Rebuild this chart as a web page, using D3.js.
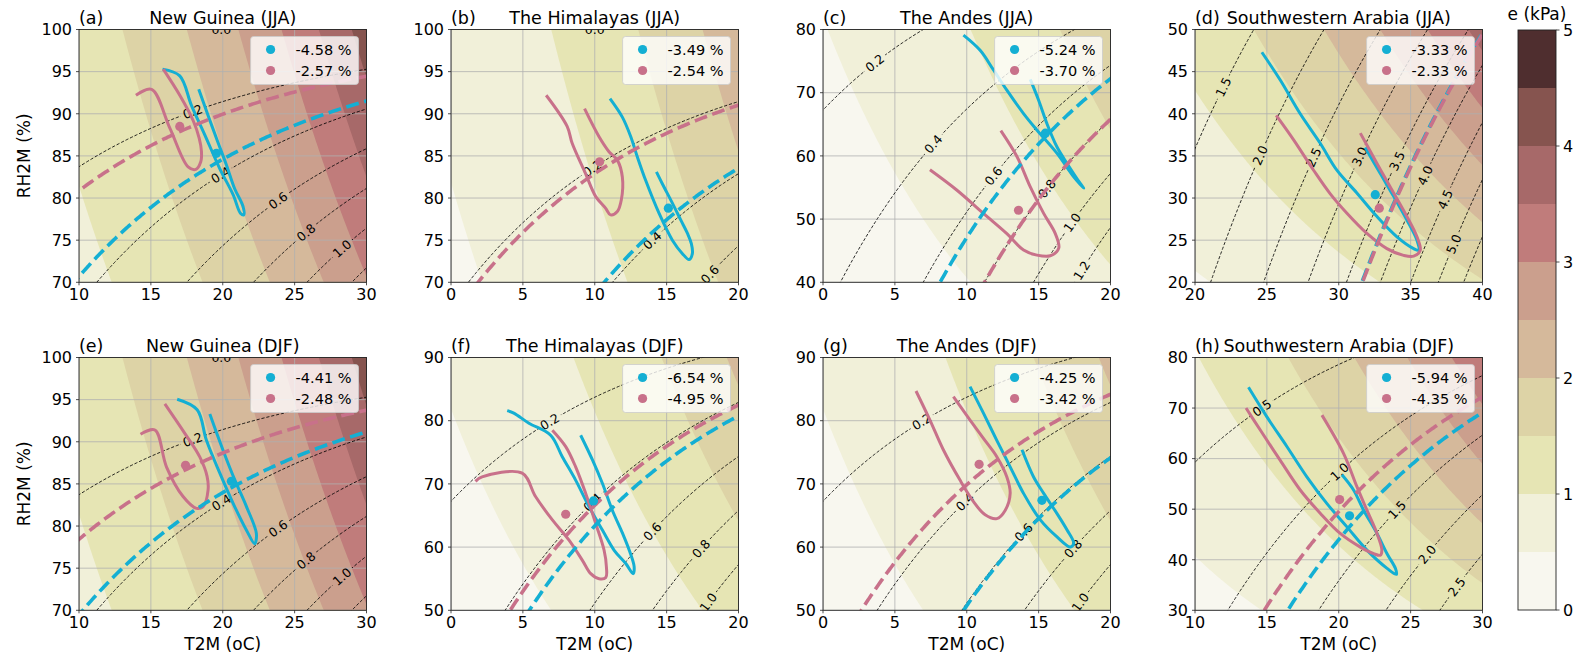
<!DOCTYPE html>
<html>
<head>
<meta charset="utf-8">
<script src="https://cdn.jsdelivr.net/npm/d3@7"></script>
<style>
body { margin: 0; background: #fff; }
text { font-family: "DejaVu Sans", sans-serif; fill: #000; }
</style>
</head>
<body>
<svg id="chart" width="1588" height="658"></svg>
<script>
// ---- data ----
var panelIds = ["a", "b", "c", "d", "e", "f", "g", "h"];
var panelTitles = ["New Guinea (JJA)", "The Himalayas (JJA)", "The Andes (JJA)", "Southwestern Arabia (JJA)",
    "New Guinea (DJF)", "The Himalayas (DJF)", "The Andes (DJF)", "Southwestern Arabia (DJF)"];
var xDomains = [[10, 30], [0, 20], [0, 20], [20, 40], [10, 30], [0, 20], [0, 20], [10, 30]];
var yDomains = [[70, 100], [70, 100], [40, 80], [20, 50], [70, 100], [50, 90], [50, 90], [30, 80]];
var yTickStep = [5, 5, 10, 5, 5, 10, 10, 10];

// vapour pressure deficit contour step (kPa) and label positions [level, T]
var vpdStep = [0.2, 0.2, 0.2, 0.5, 0.2, 0.2, 0.2, 0.5];
var vpdLabels = [
    [[0, 19.9], [0.2, 17.9], [0.4, 19.85], [0.6, 23.85], [0.8, 25.8], [1.0, 28.3]],
    [[0, 10.0], [0.2, 9.83], [0.4, 14.0], [0.6, 18.0]],
    [[0.2, 3.6], [0.4, 7.67], [0.6, 11.86], [0.8, 15.58], [1.0, 17.33], [1.2, 18.0]],
    [[1.5, 21.97], [2.0, 24.53], [2.5, 28.25], [3.0, 31.45], [3.5, 34.05], [4.0, 36.0], [4.5, 37.4], [5.0, 38.0]],
    [[0, 19.9], [0.2, 17.9], [0.4, 19.9], [0.6, 23.85], [0.8, 25.8], [1.0, 28.3]],
    [[0.2, 6.86], [0.4, 9.84], [0.6, 14.0], [0.8, 17.4], [1.0, 17.9]],
    [[0.2, 6.86], [0.4, 9.88], [0.6, 13.95], [0.8, 17.4], [1.0, 17.9]],
    [[0.5, 14.65], [1.0, 20.06], [1.5, 24.05], [2.0, 26.15], [2.5, 28.2]]
];

// VPD of the thick dashed curves (kPa)
var cyanVpd = [0.36, 0.385, 0.65, 3.72, 0.375, 0.45, 0.605, 1.31];
var pinkVpd = [0.235, 0.21, 0.80, 3.73, 0.265, 0.41, 0.37, 1.18];

var cyanPct = ["-4.58 %", "-3.49 %", "-5.24 %", "-3.33 %", "-4.41 %", "-6.54 %", "-4.25 %", "-5.94 %"];
var pinkPct = ["-2.57 %", "-2.54 %", "-3.70 %", "-2.33 %", "-2.48 %", "-4.95 %", "-3.42 %", "-4.35 %"];

var cyanMean = [[19.56, 85.3], [15.12, 78.8], [15.47, 63.6], [32.54, 30.4], [20.6, 85.3], [9.91, 67.3], [15.23, 67.4], [20.75, 48.7]];
var pinkMean = [[17.01, 88.5], [10.34, 84.3], [13.6, 51.4], [32.82, 28.8], [17.41, 87.2], [7.98, 65.2], [10.86, 73.1], [20.06, 51.9]];

var cyanLoops = [
    [[15.81, 95.3], [17.01, 94.5], [17.82, 91.0], [18.75, 87.5], [19.79, 83.5], [20.72, 80.4], [21.23, 78.2], [21.46, 78.0], [21.41, 79.0], [20.83, 81.1], [20.26, 83.9], [19.56, 87.1], [18.98, 89.8], [18.33, 92.9]],
    [[11.06, 91.8], [11.92, 89.6], [12.5, 87.3], [12.96, 84.9], [13.54, 82.1], [14.47, 78.2], [15.4, 75.0], [16.1, 73.4], [16.56, 72.7], [16.79, 73.4], [16.72, 74.6], [16.45, 75.8], [15.98, 77.4], [15.4, 79.4], [14.7, 81.7], [14.29, 83.1]],
    [[9.77, 79.1], [10.93, 76.7], [11.86, 73.6], [12.79, 70.4], [13.95, 66.7], [14.88, 64.1], [16.28, 60.4], [17.44, 56.7], [18.14, 54.9], [17.91, 55.6], [16.98, 58.8], [16.28, 61.4], [15.58, 65.1], [15.0, 68.8], [14.42, 72.1]],
    [[24.65, 47.3], [25.93, 44.0], [27.32, 40.0], [28.71, 36.5], [29.87, 33.3], [31.26, 30.6], [32.66, 27.8], [34.05, 25.4], [35.21, 24.0], [35.56, 23.8], [35.44, 25.0], [34.74, 27.4], [33.82, 30.2], [32.89, 32.9], [31.84, 36.0]],
    [[16.83, 95.05], [18.22, 93.8], [18.86, 90.2], [19.79, 86.3], [20.72, 82.7], [21.65, 79.5], [22.22, 77.9], [22.34, 79.1], [21.65, 82.3], [20.83, 85.5], [20.02, 89.0], [19.1, 93.3]],
    [[3.91, 81.6], [4.37, 81.2], [5.42, 79.6], [6.93, 77.7], [7.74, 74.3], [8.67, 70.6], [9.6, 66.4], [10.53, 62.7], [11.35, 59.5], [12.16, 57.4], [12.67, 55.8], [12.74, 56.9], [12.4, 59.5], [11.93, 62.2], [11.23, 65.8], [10.53, 70.1], [9.84, 73.8], [9.02, 77.7]],
    [[10.23, 85.4], [11.16, 81.2], [12.09, 76.9], [13.02, 72.7], [13.95, 68.5], [15.12, 64.3], [16.28, 61.6], [17.21, 60.0], [17.44, 60.6], [16.98, 62.7], [16.28, 65.3], [15.35, 68.5], [14.65, 71.1], [13.84, 75.4]],
    [[13.72, 74.1], [14.99, 68.3], [16.39, 62.4], [17.78, 56.4], [19.18, 51.1], [20.57, 46.5], [21.96, 41.9], [23.36, 38.3], [24.01, 37.1], [23.94, 38.3], [23.36, 41.2], [22.66, 45.2], [21.73, 49.8], [21.03, 53.8], [20.22, 56.8]]
];

var pinkLoops = [
    [[13.96, 92.2], [15.05, 92.9], [16.32, 88.3], [17.59, 83.7], [18.13, 83.4], [18.47, 84.3], [18.52, 85.5], [18.36, 87.1], [17.94, 89.2], [17.01, 92.2], [15.86, 95.3]],
    [[6.62, 92.2], [8.08, 88.5], [8.43, 86.5], [9.36, 82.9], [10.06, 80.2], [10.75, 78.8], [11.1, 78.0], [11.57, 78.4], [11.85, 79.8], [11.92, 82.5], [11.57, 84.5], [10.99, 85.5], [10.29, 87.3], [9.29, 90.6]],
    [[7.44, 57.8], [9.3, 54.6], [11.16, 50.9], [12.79, 47.7], [13.95, 45.1], [14.88, 44.3], [15.81, 44.2], [16.4, 45.4], [16.16, 47.7], [15.35, 50.9], [14.42, 55.1], [13.49, 59.9], [12.37, 64.0]],
    [[25.65, 39.8], [26.86, 36.9], [28.25, 33.3], [29.41, 30.5], [30.57, 28.2], [31.96, 25.8], [33.35, 24.0], [34.51, 23.2], [35.21, 23.1], [35.67, 23.8], [35.44, 25.4], [34.74, 27.8], [33.82, 30.6], [32.66, 34.1], [31.5, 37.7]],
    [[14.28, 90.9], [15.28, 91.4], [16.09, 87.0], [17.24, 83.5], [18.17, 82.1], [18.63, 82.3], [18.98, 84.3], [18.91, 85.9], [18.4, 88.2], [17.36, 91.0], [15.97, 94.5]],
    [[1.7, 70.4], [2.16, 71.1], [4.95, 71.7], [5.88, 68.0], [7.05, 64.3], [8.21, 61.1], [9.14, 57.9], [9.72, 55.8], [10.3, 55.0], [10.77, 55.2], [10.81, 56.9], [10.65, 59.5], [10.07, 63.7], [9.37, 68.5], [8.67, 72.7], [7.98, 75.9], [7.05, 78.5]],
    [[6.47, 84.7], [7.44, 80.1], [8.37, 75.4], [9.53, 70.6], [10.47, 67.2], [11.28, 65.1], [12.09, 64.5], [12.67, 65.8], [13.02, 68.5], [12.79, 71.1], [12.09, 74.3], [11.16, 77.2], [10.23, 80.1], [9.07, 83.8]],
    [[13.55, 70.0], [14.53, 65.7], [15.92, 59.7], [17.32, 53.8], [18.71, 49.2], [20.1, 45.2], [21.5, 42.5], [22.43, 41.2], [22.89, 40.9], [23.0, 41.9], [22.66, 45.2], [21.96, 49.8], [21.27, 54.4], [20.34, 61.0], [18.83, 68.6]]
];

// vapour pressure colour levels (kPa)
var eLevels = [0, 0.5, 1, 1.5, 2, 2.5, 3, 3.5, 4, 4.5, 5];
var eColors = ["#f8f7ef", "#f1f0d9", "#e6e5b4", "#ddd3a6", "#d5b99b", "#cb9f8d", "#c07c7b", "#a76969", "#86544f", "#4f2e2f"];
var cbTicks = [0, 1, 2, 3, 4, 5];

var cyan = "#14afd3", pink = "#c8718a";

// ---- drawing ----
var svg = d3.select("#chart");
var defs = svg.append("defs");
var W = 287.5, H = 252.8;
var lefts = [79, 451, 823, 1195], tops = [29.5, 357.5];

function es(t) {
    return 0.6108 * Math.exp(17.27 * t / (t + 237.3));
}

// sample a field on a grid a bit larger than the axes, return values + path generator
function field(fn, x, y) {
    var xd = x.domain(), yd = y.domain(), n = 130;
    var padX = (xd[1] - xd[0]) * 0.06, padY = (yd[1] - yd[0]) * 0.06;
    var t0 = xd[0] - padX, dt = (xd[1] - xd[0] + 2 * padX) / (n - 1);
    var r0 = yd[0] - padY, dr = (yd[1] - yd[0] + 2 * padY) / (n - 1);
    var values = [];
    for (var j = 0; j < n; j++)
        for (var i = 0; i < n; i++)
            values.push(fn(t0 + i * dt, r0 + j * dr));
    var path = d3.geoPath(d3.geoTransform({
        point: function (gx, gy) {
            this.stream.point(x(t0 + (gx - 0.5) * dt), y(r0 + (gy - 0.5) * dr));
        }
    }));
    return {values: values, n: n, path: path};
}

var fmt1 = d3.format(".1f");

panelIds.forEach(function (id, k) {
    var col = k % 4, row = Math.floor(k / 4);
    var x0 = lefts[col], y0 = tops[row];
    var x = d3.scaleLinear().domain(xDomains[k]).range([x0, x0 + W]);
    var y = d3.scaleLinear().domain(yDomains[k]).range([y0 + H, y0]);

    defs.append("clipPath").attr("id", "clip" + k)
        .append("rect").attr("x", x0).attr("y", y0).attr("width", W).attr("height", H);

    var g = svg.append("g");
    var plot = g.append("g").attr("clip-path", "url(#clip" + k + ")");

    // filled vapour pressure
    var ef = field(function (t, rh) { return es(t) * rh / 100; }, x, y);
    var eCont = d3.contours().size([ef.n, ef.n]).thresholds(eLevels.slice(0, -1))(ef.values);
    plot.append("g").selectAll("path")
        .data(eCont)
        .enter().append("path")
        .attr("d", ef.path)
        .attr("fill", function (d, i) { return eColors[i]; });

    // grid
    var xTicks = d3.range(xDomains[k][0], xDomains[k][1] + 0.01, 5);
    var yTicks = d3.range(yDomains[k][0], yDomains[k][1] + 0.01, yTickStep[k]);
    plot.append("g").selectAll("line.gx")
        .data(xTicks).enter().append("line")
        .attr("x1", x).attr("x2", x).attr("y1", y0).attr("y2", y0 + H)
        .attr("stroke", "#b0b0b0").attr("stroke-width", 0.8);
    plot.append("g").selectAll("line.gy")
        .data(yTicks).enter().append("line")
        .attr("y1", y).attr("y2", y).attr("x1", x0).attr("x2", x0 + W)
        .attr("stroke", "#b0b0b0").attr("stroke-width", 0.8);

    // VPD field
    var vf = field(function (t, rh) { return es(t) * (1 - rh / 100); }, x, y);
    var levels = d3.range(vpdStep[k], 6.01, vpdStep[k]);

    // mask out the line under each contour label
    var mask = defs.append("mask").attr("id", "mask" + k)
        .attr("maskUnits", "userSpaceOnUse")
        .attr("x", x0 - 5).attr("y", y0 - 5).attr("width", W + 10).attr("height", H + 10);
    mask.append("rect").attr("x", x0 - 5).attr("y", y0 - 5).attr("width", W + 10).attr("height", H + 10)
        .attr("fill", "white");

    var labelG = plot.append("g");
    vpdLabels[k].forEach(function (d) {
        var v = d[0], t = d[1];
        var rh = 100 * (1 - v / es(t));
        var ax = x(t), ay = y(rh);
        var bx = x(t + 0.2), by = y(100 * (1 - v / es(t + 0.2)));
        var ang = Math.atan2(by - ay, bx - ax) * 180 / Math.PI;
        if (ang > 90) ang -= 180;
        if (ang < -90) ang += 180;
        var tr = "translate(" + ax + "," + ay + ") rotate(" + ang + ")";
        mask.append("rect").attr("x", -13).attr("y", -6).attr("width", 26).attr("height", 12)
            .attr("transform", tr).attr("fill", "black");
        labelG.append("text")
            .attr("transform", tr)
            .attr("text-anchor", "middle")
            .attr("dy", "0.36em")
            .style("font-size", "12.5px")
            .text(fmt1(v));
    });

    plot.append("g").attr("mask", "url(#mask" + k + ")")
        .selectAll("path")
        .data(d3.contours().size([vf.n, vf.n]).thresholds(levels)(vf.values))
        .enter().append("path")
        .attr("d", vf.path)
        .attr("fill", "none")
        .attr("stroke", "#000")
        .attr("stroke-width", 0.85)
        .attr("stroke-dasharray", "3.2,1.8");

    labelG.raise();

    // loops
    var line = d3.line()
        .x(function (d) { return x(d[0]); })
        .y(function (d) { return y(d[1]); })
        .curve(d3.curveCatmullRom.alpha(0.5));
    plot.append("path").attr("d", line(cyanLoops[k]))
        .attr("fill", "none").attr("stroke", cyan).attr("stroke-width", 3)
        .attr("stroke-linejoin", "round").attr("stroke-linecap", "butt");
    plot.append("path").attr("d", line(pinkLoops[k]))
        .attr("fill", "none").attr("stroke", pink).attr("stroke-width", 3)
        .attr("stroke-linejoin", "round").attr("stroke-linecap", "butt");

    // thick dashed VPD curves
    [[cyanVpd[k], cyan], [pinkVpd[k], pink]].forEach(function (c) {
        plot.append("path")
            .datum(d3.contours().size([vf.n, vf.n]).thresholds([c[0]])(vf.values)[0])
            .attr("d", vf.path)
            .attr("fill", "none")
            .attr("stroke", c[1])
            .attr("stroke-width", 3.6)
            .attr("stroke-dasharray", "13,5.6");
    });

    // means
    plot.append("circle").attr("cx", x(cyanMean[k][0])).attr("cy", y(cyanMean[k][1]))
        .attr("r", 4.6).attr("fill", cyan);
    plot.append("circle").attr("cx", x(pinkMean[k][0])).attr("cy", y(pinkMean[k][1]))
        .attr("r", 4.6).attr("fill", pink);

    // spines
    g.append("rect").attr("x", x0).attr("y", y0).attr("width", W).attr("height", H)
        .attr("fill", "none").attr("stroke", "#222").attr("stroke-width", 0.9);

    // ticks
    g.append("g").selectAll("text")
        .data(xTicks).enter().append("text")
        .attr("x", x).attr("y", y0 + H + 18)
        .attr("text-anchor", "middle")
        .style("font-size", "16px")
        .text(function (d) { return d; });
    g.append("g").selectAll("text")
        .data(yTicks).enter().append("text")
        .attr("x", x0 - 7).attr("y", y)
        .attr("dy", "0.36em")
        .attr("text-anchor", "end")
        .style("font-size", "16px")
        .text(function (d) { return d; });
    g.append("g").selectAll("line")
        .data(xTicks).enter().append("line")
        .attr("x1", x).attr("x2", x).attr("y1", y0 + H).attr("y2", y0 + H + 3)
        .attr("stroke", "#222").attr("stroke-width", 0.8);
    g.append("g").selectAll("line")
        .data(yTicks).enter().append("line")
        .attr("y1", y).attr("y2", y).attr("x1", x0).attr("x2", x0 - 3)
        .attr("stroke", "#222").attr("stroke-width", 0.8);

    // titles
    g.append("text").attr("x", x0).attr("y", y0 - 5.5)
        .style("font-size", "17.5px").text("(" + id + ")");
    g.append("text").attr("x", x0 + W / 2).attr("y", y0 - 5.5)
        .attr("text-anchor", "middle")
        .style("font-size", "17.5px").text(panelTitles[k]);

    if (col === 0) {
        g.append("text")
            .attr("transform", "translate(30," + (y0 + H / 2) + ") rotate(-90)")
            .attr("text-anchor", "middle")
            .style("font-size", "17px").text("RH2M (%)");
    }
    if (row === 1) {
        g.append("text").attr("x", x0 + W / 2).attr("y", 650)
            .attr("text-anchor", "middle")
            .style("font-size", "17px").text("T2M (oC)");
    }

    // legend
    var lg = g.append("g");
    var box = lg.append("rect").attr("y", y0 + 7).attr("height", 48)
        .attr("rx", 3).attr("fill", "#fff").attr("fill-opacity", 0.8)
        .attr("stroke", "#cccccc").attr("stroke-width", 0.8);
    var t1 = lg.append("text").attr("y", y0 + 7 + 13).attr("dy", "0.36em")
        .style("font-size", "14.5px").text(cyanPct[k]);
    var t2 = lg.append("text").attr("y", y0 + 7 + 34).attr("dy", "0.36em")
        .style("font-size", "14.5px").text(pinkPct[k]);
    var tw = Math.max(t1.node().getComputedTextLength(), t2.node().getComputedTextLength());
    var bw = 45 + tw + 7;
    var bx0 = x0 + W - 8 - bw;
    box.attr("x", bx0).attr("width", bw);
    t1.attr("x", bx0 + 45);
    t2.attr("x", bx0 + 45);
    lg.append("circle").attr("cx", bx0 + 20).attr("cy", y0 + 7 + 13).attr("r", 4.6).attr("fill", cyan);
    lg.append("circle").attr("cx", bx0 + 20).attr("cy", y0 + 7 + 34).attr("r", 4.6).attr("fill", pink);
});

// ---- colour bar ----
var cbX = 1518, cbW = 38;
var cbY = d3.scaleLinear().domain([0, 5]).range([610, 30]);
var cb = svg.append("g");
cb.selectAll("rect.band")
    .data(eColors).enter().append("rect")
    .attr("x", cbX).attr("width", cbW)
    .attr("y", function (d, i) { return cbY(eLevels[i + 1]); })
    .attr("height", function (d, i) { return cbY(eLevels[i]) - cbY(eLevels[i + 1]); })
    .attr("fill", function (d) { return d; });
cb.append("rect").attr("x", cbX).attr("y", cbY(5)).attr("width", cbW).attr("height", cbY(0) - cbY(5))
    .attr("fill", "none").attr("stroke", "#222").attr("stroke-width", 0.9);
cb.selectAll("line.tick")
    .data(cbTicks).enter().append("line")
    .attr("x1", cbX + cbW).attr("x2", cbX + cbW + 3.5)
    .attr("y1", cbY).attr("y2", cbY)
    .attr("stroke", "#222").attr("stroke-width", 0.8);
cb.selectAll("text.tick")
    .data(cbTicks).enter().append("text")
    .attr("x", cbX + cbW + 7).attr("y", cbY).attr("dy", "0.36em")
    .style("font-size", "16px")
    .text(function (d) { return d; });
cb.append("text").attr("x", cbX + cbW / 2).attr("y", 20)
    .attr("text-anchor", "middle")
    .style("font-size", "17px").text("e (kPa)");
</script>
</body>
</html>
